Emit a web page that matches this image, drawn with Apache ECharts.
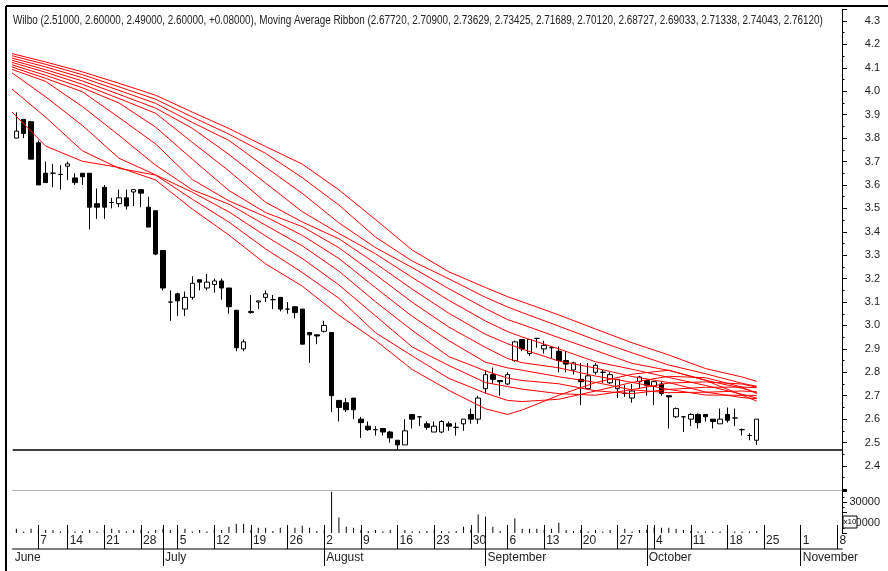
<!DOCTYPE html>
<html><head><meta charset="utf-8">
<script src="https://cdn.jsdelivr.net/npm/echarts@6/dist/echarts.min.js"></script>
<style>html,body{margin:0;padding:0;background:#fff}#c{width:888px;height:571px}</style>
</head><body><div id="c"></div>
<script>
const FONT = "'Liberation Sans',Arial,sans-serif";
const dates = ['06-02','06-03','06-04','06-08','06-09','06-10','06-11','06-14','06-15','06-16','06-17','06-18','06-21','06-22','06-23','06-24','06-25','06-28','06-29','06-30','07-01','07-02','07-05','07-06','07-07','07-08','07-09','07-12','07-13','07-14','07-15','07-16','07-19','07-20','07-21','07-22','07-23','07-26','07-27','07-28','07-29','07-30','08-02','08-03','08-04','08-05','08-06','08-09','08-10','08-11','08-12','08-13','08-16','08-17','08-18','08-19','08-20','08-23','08-24','08-25','08-26','08-27','08-30','08-31','09-01','09-02','09-03','09-06','09-07','09-08','09-09','09-10','09-13','09-14','09-15','09-16','09-17','09-20','09-21','09-22','09-23','09-24','09-27','09-28','09-29','09-30','10-01','10-04','10-05','10-06','10-07','10-08','10-11','10-12','10-13','10-14','10-15','10-18','10-19','10-20','10-21','10-22'];
const opens  = [3.80,3.88,3.87,3.78,3.65,3.65,3.645,3.68,3.63,3.65,3.65,3.52,3.59,3.525,3.52,3.545,3.57,3.58,3.505,3.49,3.32,3.10,3.135,3.07,3.12,3.195,3.16,3.175,3.19,3.16,3.065,2.90,3.055,3.10,3.12,3.11,3.12,3.07,3.08,3.07,2.97,2.96,2.975,2.97,2.68,2.67,2.69,2.60,2.57,2.555,2.56,2.545,2.51,2.49,2.62,2.61,2.58,2.545,2.545,2.58,2.565,2.58,2.62,2.60,2.73,2.79,2.765,2.75,2.85,2.94,2.88,2.945,2.90,2.905,2.89,2.85,2.81,2.77,2.73,2.80,2.80,2.755,2.73,2.71,2.69,2.76,2.765,2.74,2.75,2.70,2.61,2.61,2.60,2.62,2.62,2.60,2.58,2.62,2.605,2.555,2.53,2.51];
const highs  = [3.91,3.88,3.87,3.79,3.70,3.69,3.685,3.70,3.65,3.65,3.65,3.585,3.60,3.545,3.58,3.58,3.58,3.58,3.55,3.49,3.32,3.15,3.14,3.145,3.21,3.195,3.22,3.20,3.20,3.16,3.065,2.94,3.13,3.105,3.15,3.13,3.12,3.10,3.08,3.07,2.97,2.96,3.02,2.97,2.68,2.69,2.69,2.61,2.59,2.57,2.56,2.55,2.51,2.60,2.62,2.61,2.59,2.59,2.595,2.59,2.585,2.60,2.645,2.70,2.81,2.82,2.765,2.80,2.935,2.94,2.94,2.945,2.935,2.91,2.91,2.89,2.845,2.84,2.84,2.84,2.81,2.80,2.77,2.745,2.75,2.785,2.765,2.76,2.76,2.70,2.65,2.61,2.625,2.625,2.62,2.60,2.645,2.65,2.645,2.56,2.54,2.60];
const lows   = [3.80,3.80,3.71,3.60,3.61,3.59,3.58,3.62,3.60,3.60,3.41,3.455,3.455,3.50,3.505,3.495,3.51,3.505,3.42,3.30,3.15,3.02,3.04,3.04,3.11,3.15,3.15,3.14,3.11,3.05,2.89,2.89,3.05,3.07,3.10,3.07,3.06,3.05,3.03,2.92,2.84,2.92,2.97,2.63,2.59,2.63,2.60,2.52,2.55,2.53,2.53,2.50,2.468,2.49,2.56,2.57,2.555,2.545,2.54,2.55,2.53,2.55,2.58,2.58,2.71,2.75,2.70,2.745,2.845,2.89,2.87,2.905,2.88,2.86,2.80,2.80,2.79,2.66,2.725,2.79,2.755,2.75,2.69,2.695,2.67,2.73,2.70,2.66,2.70,2.56,2.605,2.545,2.57,2.56,2.59,2.56,2.58,2.585,2.57,2.53,2.51,2.49];
const closes = [3.83,3.82,3.71,3.60,3.61,3.65,3.645,3.69,3.61,3.635,3.505,3.505,3.505,3.525,3.545,3.51,3.58,3.565,3.42,3.305,3.16,3.10,3.105,3.12,3.18,3.185,3.185,3.19,3.16,3.08,2.905,2.93,3.06,3.105,3.135,3.11,3.07,3.07,3.055,2.92,2.96,2.955,3.00,2.70,2.65,2.64,2.64,2.585,2.555,2.555,2.545,2.52,2.49,2.55,2.60,2.61,2.565,2.57,2.59,2.57,2.565,2.60,2.60,2.69,2.79,2.77,2.76,2.79,2.93,2.90,2.94,2.945,2.915,2.905,2.85,2.835,2.84,2.76,2.785,2.83,2.80,2.79,2.77,2.71,2.72,2.78,2.745,2.76,2.71,2.695,2.645,2.61,2.62,2.585,2.61,2.59,2.60,2.595,2.605,2.555,2.53,2.60];
const volumes = [4000,1500,4000,3000,3000,3000,1500,3000,1500,1500,3000,1500,3000,4000,3000,1500,3000,3000,1500,3000,4000,3000,3000,4000,1500,3000,1500,3000,3000,6000,9000,9000,3000,5000,5000,2000,5000,3000,5000,7000,5000,2000,3000,40000,15000,6000,5000,3000,2000,3000,1500,3000,3000,3000,1500,1500,2000,3000,2000,1500,2000,6000,3000,18000,16000,6000,2000,4000,14000,4000,4000,4000,3000,4000,10000,3000,2000,3000,1500,3000,1500,3000,3000,4000,1500,3000,3000,5000,5000,5000,4000,3000,2000,1500,1500,1500,1500,2000,1500,1500,1500,2000];
const lowLine = 2.468;
// moving average ribbon (periods 25..75), read at these trading-day positions
const ribbonIdx = [-1,4,9,14,19,24,29,34,39,44,49,54,59,64,67,69,74,79,84,89,94,99,101];
const ma25 = [3.924,3.766,3.701,3.675,3.621,3.497,3.386,3.263,3.168,3.044,2.936,2.812,2.723,2.644,2.620,2.639,2.702,2.756,2.792,2.809,2.766,2.702,2.6772];
const ma30 = [4.020,3.889,3.746,3.671,3.642,3.539,3.441,3.327,3.226,3.116,2.969,2.870,2.774,2.711,2.680,2.675,2.685,2.720,2.757,2.783,2.777,2.737,2.7090];
const ma35 = [4.088,3.976,3.854,3.714,3.643,3.569,3.485,3.382,3.286,3.173,3.041,2.908,2.829,2.756,2.739,2.728,2.709,2.702,2.726,2.754,2.759,2.750,2.73629];
const ma40 = [4.098,4.042,3.935,3.812,3.684,3.579,3.518,3.428,3.340,3.232,3.101,2.979,2.867,2.806,2.775,2.765,2.751,2.721,2.709,2.727,2.736,2.737,2.73425];
const ma45 = [4.108,4.055,3.998,3.888,3.775,3.623,3.532,3.464,3.385,3.286,3.161,3.039,2.935,2.843,2.819,2.809,2.781,2.757,2.725,2.713,2.715,2.720,2.71689];
const ma50 = [4.117,4.068,4.015,3.950,3.847,3.710,3.576,3.482,3.422,3.332,3.217,3.099,2.993,2.906,2.859,2.841,2.819,2.784,2.757,2.727,2.703,2.702,2.70120];
const ma55 = [4.127,4.081,4.030,3.969,3.906,3.782,3.660,3.526,3.442,3.370,3.265,3.155,3.052,2.962,2.922,2.899,2.848,2.818,2.782,2.756,2.716,2.692,2.68727];
const ma60 = [4.136,4.092,4.044,3.987,3.928,3.842,3.730,3.608,3.486,3.393,3.306,3.205,3.107,3.019,2.974,2.951,2.900,2.845,2.813,2.778,2.744,2.706,2.69033];
const ma65 = [4.145,4.104,4.058,4.004,3.948,3.867,3.790,3.676,3.564,3.438,3.332,3.247,3.157,3.072,3.025,3.004,2.948,2.893,2.838,2.808,2.766,2.732,2.71338];
const ma70 = [4.155,4.115,4.071,4.019,3.966,3.890,3.817,3.735,3.631,3.514,3.377,3.275,3.199,3.120,3.079,3.055,2.997,2.938,2.883,2.831,2.794,2.753,2.74043];
const ma75 = [4.164,4.125,4.083,4.034,3.983,3.911,3.841,3.764,3.689,3.579,3.452,3.322,3.229,3.162,3.123,3.101,3.045,2.985,2.926,2.874,2.816,2.780,2.76120];
const ribbons = [ma25,ma30,ma35,ma40,ma45,ma50,ma55,ma60,ma65,ma70,ma75];
// date scale
const weekIdx = [3,7,12,17,22,27,32,37,42,47,52,57,62,67,72,77,82,87,92,97,102,107,112];
const weekLabels = ['7','14','21','28','5','12','19','26','2','9','16','23','30','6','13','20','27','4','11','18','25','1','8'];
const monthTickIdx = [20,42,64,86,107];
const monthLabelIdx = [-0.5,20,42,64,86,107];
const monthLabels = ['June','July','August','September','October','November'];
const titleText = 'Wilbo (2.51000, 2.60000, 2.49000, 2.60000, +0.08000), Moving Average Ribbon (2.67720, 2.70900, 2.73629, 2.73425, 2.71689, 2.70120, 2.68727, 2.69033, 2.71338, 2.74043, 2.76120)';

const XMIN = -0.5, XMAX = 112.63;
const chart = echarts.init(document.getElementById('c'), null, {renderer:'canvas'});
const lbl = {fontFamily: FONT, fontSize: 11, color: '#222'};
const noZero = {onZero:false};
const series = [{
  type:'candlestick', xAxisIndex:0, yAxisIndex:0, barWidth:5, z:2,
  encode:{x:0, y:[1,2,3,4]},
  data: dates.map((d,i)=>[i, opens[i], closes[i], lows[i], highs[i]]),
  itemStyle:{color:'#fff', color0:'#000', borderColor:'#000', borderColor0:'#000', borderWidth:1},
  markLine:{silent:true, symbol:'none', label:{show:false}, lineStyle:{color:'#000', width:1.5, type:'solid'}, data:[{yAxis: lowLine}]}
},{
  type:'bar', xAxisIndex:1, yAxisIndex:1, barWidth:1, itemStyle:{color:'#000'},
  encode:{x:0, y:1},
  data: volumes.map((v,i)=>[i,v])
}];
ribbons.forEach((m,k)=>series.push({
  type:'line', xAxisIndex:0, yAxisIndex:0, symbol:'none', z:3,
  lineStyle:{color:'#ff0000', width:1}, data: ribbonIdx.map((x,j)=>[x, m[j]])
}));
chart.setOption({
  animation:false,
  grid:[
    {left:12.7, right:46, top:9.3, bottom:81.6},
    {left:12.7, right:46, top:490, bottom:38},
    {left:12.7, right:46, top:549, bottom:5}
  ],
  xAxis:[
    {gridIndex:0, type:'value', min:XMIN, max:XMAX, show:false, axisLine:noZero},
    {gridIndex:1, type:'value', min:XMIN, max:XMAX, position:'top', axisLine:{show:true, onZero:false, lineStyle:{color:'#b4b4b4', width:1}}, axisTick:{show:false}, axisLabel:{show:false}, splitLine:{show:false}},
    {gridIndex:2, type:'value', min:XMIN, max:XMAX, position:'top',
      axisLine:{show:true, onZero:false, lineStyle:{color:'#555', width:1.5}},
      axisTick:{show:true, inside:false, length:24, customValues: weekIdx.concat(monthTickIdx), lineStyle:{color:'#000', width:1}},
      axisLabel:Object.assign({customValues: weekIdx, margin:2, align:'left', padding:[0,0,0,2], formatter:v=>weekLabels[weekIdx.indexOf(v)]}, lbl, {fontSize:12}),
      splitLine:{show:false}},
    {gridIndex:2, type:'value', min:XMIN, max:XMAX, position:'bottom',
      axisLine:{show:false, onZero:false},
      axisTick:{show:true, inside:true, length:17, customValues: monthTickIdx, lineStyle:{color:'#000', width:1}},
      axisLabel:Object.assign({inside:true, customValues: monthLabelIdx, margin:2, align:'left', padding:[0,0,0,2], formatter:v=>monthLabels[monthLabelIdx.indexOf(v)]}, lbl, {fontSize:12}),
      splitLine:{show:false}}
  ],
  yAxis:[
    {gridIndex:0, type:'value', position:'right', min:2.3, max:4.35, interval:0.1,
      axisLine:{show:true, onZero:false, lineStyle:{color:'#000'}}, axisTick:{show:true, length:5, lineStyle:{color:'#000'}},
      minorTick:{show:true, splitNumber:2, length:2.5, lineStyle:{color:'#000'}},
      axisLabel:Object.assign({margin:38, align:'right', showMinLabel:false, showMaxLabel:false, formatter:v=>v.toFixed(1)}, lbl),
      splitLine:{show:false}, minorSplitLine:{show:false}},
    {gridIndex:1, type:'value', position:'right', min:0, max:41600, interval:10000,
      axisLine:{show:true, onZero:false, lineStyle:{color:'#000'}}, axisTick:{show:true, length:5, lineStyle:{color:'#000'}},
      minorTick:{show:true, splitNumber:2, length:2.5, lineStyle:{color:'#000'}},
      axisLabel:Object.assign({margin:38, align:'right', formatter:v=>(Math.round(v)===10000||Math.round(v)===30000)?String(Math.round(v)):''}, lbl),
      splitLine:{show:false}, minorSplitLine:{show:false}},
    {gridIndex:2, type:'value', show:false, min:0, max:1, axisLine:noZero}
  ],
  graphic:[
    {type:'text', z:100, x:13, y:21, scaleX:0.825, style:{text:titleText, fontSize:12, fontFamily:FONT, fill:'#222', align:'left', verticalAlign:'middle'}},
    {type:'line', z:100, shape:{x1:6,y1:6,x2:888,y2:6}, style:{stroke:'#000', lineWidth:2}},
    {type:'line', z:100, shape:{x1:6,y1:6,x2:6,y2:571}, style:{stroke:'#000', lineWidth:2}},
    {type:'rect', z:100, shape:{x:843,y:516,width:14,height:12}, style:{fill:'#fff', stroke:'#000', lineWidth:1}},
    {type:'text', z:101, x:850, y:522, style:{text:'x10', fontSize:8, fontFamily:FONT, fill:'#000', align:'center', verticalAlign:'middle'}}
  ],
  series: series
});
</script></body></html>
